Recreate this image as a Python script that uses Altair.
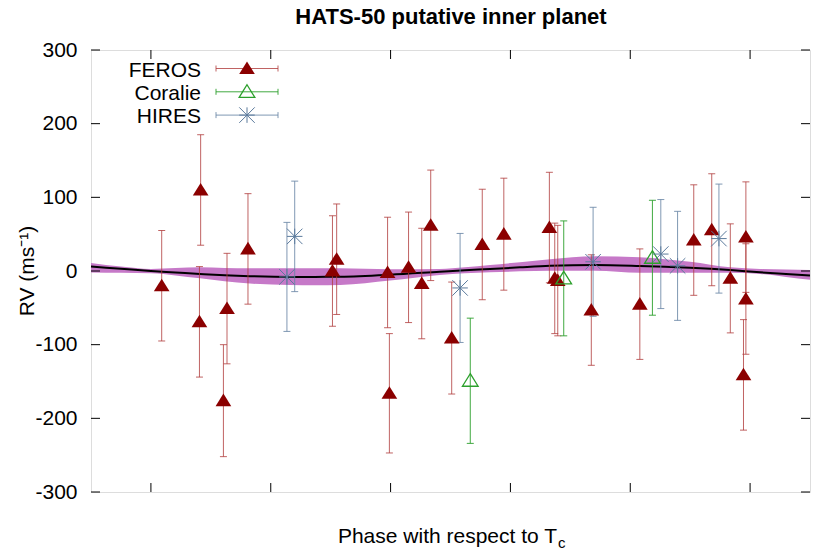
import altair as alt
import pandas as pd

# ---------------- data ----------------
feros_phase = [0.018, 0.083, 0.081, 0.127, 0.121, 0.162, 0.303, 0.310, 0.395, 0.430,
               0.452, 0.467, 0.398, 0.502, 0.553, 0.589, 0.665, 0.674, 0.679, 0.735,
               0.816, 0.906, 0.936, 0.967, 0.993, 0.993, 0.989]
feros_rv = [-20, 110, -69, -51, -176, 30, 0, 16, -2, 5,
            -17, 62, -166, -91, 36, 50, 59, -10, -13, -53,
            -45, 42, 56, -10, 46, -38, -141]
feros_err = [75, 75, 75, 75, 76, 75, 75, 75, 75, 75,
             75, 75, 81, 76, 75, 76, 75, 75, 75, 75,
             75, 75, 76, 74, 75, 75, 75]

coralie_phase = [0.533, 0.689, 0.837]
coralie_rv = [-149, -10, 18]
coralie_err = [85, 78, 78]

hires_phase = [0.227, 0.240, 0.516, 0.738, 0.851, 0.879, 0.948]
hires_rv = [-8, 47, -23, 12.5, 23, 7, 44]
hires_err = [74, 75, 74, 74, 74, 74, 74]

model_phase = [-0.1, -0.05, 0.0, 0.041, 0.082, 0.123, 0.165, 0.232, 0.274, 0.316,
               0.399, 0.482, 0.524, 0.566, 0.616, 0.666, 0.741, 0.816, 0.858,
               0.9, 0.967, 1.017, 1.06, 1.1]
model_rv = [6, 3, 0, -2, -4, -5.8, -7, -8, -8, -7.7,
            -5, -1, 1, 2.7, 5, 7, 8, 6.8, 5.8,
            4.5, 1.4, -1.8, -4, -6]
band_lo = [-2, -2.5, -3, -6, -10, -14, -17, -19, -19.5, -19,
           -13, -5.4, -3, -1.8, -0.5, 0.4, 0.4, -2.3, -2.3,
           -2.3, -2.3, -4, -8, -12]
band_hi = [11, 6, 2.7, 4, 5, 4.2, 3.6, 3.6, 3.6, 3.6,
           2.3, 2.7, 5, 8, 12, 16, 20, 18.6, 16,
           12.7, 5, 2.7, 2, 1.4]

x_ticks = [0.0, 0.2, 0.4, 0.6, 0.8, 1.0]
y_ticks = [-300, -200, -100, 0, 100, 200, 300]

legend_names = ["FEROS", "Coralie", "HIRES"]

# ---------------- tables ----------------
def table(ph, rv, er):
    return pd.DataFrame({"phase": ph, "rv": rv,
                         "lo": [v - e for v, e in zip(rv, er)],
                         "hi": [v + e for v, e in zip(rv, er)]})

feros = table(feros_phase, feros_rv, feros_err)
coralie = table(coralie_phase, coralie_rv, coralie_err)
hires = table(hires_phase, hires_rv, hires_err)
model = pd.DataFrame({"phase": model_phase, "rv": model_rv, "lo": band_lo, "hi": band_hi})
xt = pd.DataFrame({"v": x_ticks})
yt = pd.DataFrame({"v": y_ticks})

FONT = "Liberation Sans"
TRI = "M0,-0.9L1,0.7L-1,0.7Z"
STAR = "M-1,0H1M0,-1V1M-1,-1L1,1M-1,1L1,-1"

styles = {
    "FEROS": dict(bar="#b03c3c", bar_op=0.8, mk=dict(shape=TRI, filled=True, color="#8b0000", size=246, opacity=1)),
    "Coralie": dict(bar="#2ca02c", bar_op=0.9, mk=dict(shape=TRI, filled=False, color="#2ca02c", size=246, strokeWidth=1.3, opacity=1)),
    "HIRES": dict(bar="#6a86a6", bar_op=0.85, mk=dict(shape=STAR, filled=False, color="#5b7a9c", size=240, strokeWidth=1, opacity=1)),
}

xs = alt.Scale(domain=[-0.1, 1.1], nice=False, zero=False)
ys = alt.Scale(domain=[-300, 300], nice=False, zero=False)

left_axis = alt.Axis(orient="left", values=y_ticks, title=None, domain=False, grid=False,
                     tickSize=0, format="d", labelFont=FONT, labelFontSize=21, labelColor="black",
                     labelPadding=14, labelExpr="replace(datum.label, '\u2212', '-')")

X = lambda f: alt.X(f, scale=xs, axis=None)
Y = lambda f: alt.Y(f, scale=ys, axis=left_axis)

band = alt.Chart(model).mark_area(color="#c679c8", opacity=1, interpolate="monotone").encode(
    x=X("phase:Q"), y=Y("lo:Q"), y2="hi:Q")
curve = alt.Chart(model).mark_line(color="black", strokeWidth=2, interpolate="monotone").encode(
    x=X("phase:Q"), y=Y("rv:Q"))

layers = [band, curve]

# inward ticks on all four sides (gnuplot style, mirrored)
TL = 9
layers.append(alt.Chart(yt).mark_rule(color="black", strokeWidth=1).encode(
    y=Y("v:Q"), x=alt.value(0), x2=alt.value(TL)))
layers.append(alt.Chart(yt).mark_rule(color="black", strokeWidth=1).encode(
    y=Y("v:Q"), x=alt.value(719 - TL), x2=alt.value(719)))
layers.append(alt.Chart(xt).mark_rule(color="black", strokeWidth=1).encode(
    x=X("v:Q"), y=alt.value(0), y2=alt.value(TL)))
layers.append(alt.Chart(xt).mark_rule(color="black", strokeWidth=1).encode(
    x=X("v:Q"), y=alt.value(442 - TL), y2=alt.value(442)))

for name, df in [("FEROS", feros), ("Coralie", coralie), ("HIRES", hires)]:
    st = styles[name]
    base = alt.Chart(df)
    layers.append(base.mark_rule(color=st["bar"], opacity=st["bar_op"], strokeWidth=1).encode(
        x=X("phase:Q"), y=Y("lo:Q"), y2="hi:Q"))
    for f in ["lo", "hi"]:
        layers.append(base.mark_tick(orient="horizontal", size=7, thickness=1,
                                     color=st["bar"], opacity=st["bar_op"]).encode(
            x=X("phase:Q"), y=Y(f + ":Q")))
for name, df in [("FEROS", feros), ("Coralie", coralie), ("HIRES", hires)]:
    layers.append(alt.Chart(df).mark_point(**styles[name]["mk"]).encode(
        x=X("phase:Q"), y=Y("rv:Q")))

# legend (inside plot, top-left, gnuplot style)
one = pd.DataFrame({"k": [0]})
for i, name in enumerate(legend_names):
    st = styles[name]
    yc = 18.5 + 23.3 * i
    layers.append(alt.Chart(pd.DataFrame({"t": [name]})).mark_text(
        font=FONT, fontSize=21, align="right", baseline="alphabetic", color="black").encode(
        text="t:N", x=alt.value(110), y=alt.value(yc + 8)))
    layers.append(alt.Chart(one).mark_rule(color=st["bar"], opacity=st["bar_op"], strokeWidth=1).encode(
        x=alt.value(125), x2=alt.value(187), y=alt.value(yc)))
    for xv in [125, 187]:
        layers.append(alt.Chart(one).mark_rule(color=st["bar"], opacity=st["bar_op"], strokeWidth=1).encode(
            x=alt.value(xv), y=alt.value(yc - 3), y2=alt.value(yc + 3)))
    layers.append(alt.Chart(one).mark_point(**st["mk"]).encode(
        x=alt.value(156), y=alt.value(yc)))

# titles
layers.append(alt.Chart(pd.DataFrame({"t": ["HATS-50 putative inner planet"]})).mark_text(
    font=FONT, fontSize=22, fontWeight="bold", align="center", baseline="alphabetic", color="black").encode(
    text="t:N", x=alt.value(360), y=alt.value(-26)))
layers.append(alt.Chart(pd.DataFrame({"t": ["RV (ms\u207b\u00b9)"]})).mark_text(
    font=FONT, fontSize=21, align="center", baseline="middle", angle=270, color="black").encode(
    text="t:N", x=alt.value(-63), y=alt.value(221)))
layers.append(alt.Chart(pd.DataFrame({"t": ["Phase with respect to T"]})).mark_text(
    font=FONT, fontSize=21, align="right", baseline="alphabetic", color="black").encode(
    text="t:N", x=alt.value(466), y=alt.value(493)))
layers.append(alt.Chart(pd.DataFrame({"t": ["c"]})).mark_text(
    font=FONT, fontSize=15, align="left", baseline="alphabetic", color="black").encode(
    text="t:N", x=alt.value(467), y=alt.value(498)))

chart = alt.layer(*layers).properties(
    width=719, height=442,
    autosize=alt.AutoSizeParams(type="none"),
    padding={"left": 83, "top": 42, "right": 12, "bottom": 56},
).configure_view(stroke="black", strokeWidth=1.2).configure(background="white")

chart.save("out.html", embed_options={"renderer": "svg", "actions": False})
